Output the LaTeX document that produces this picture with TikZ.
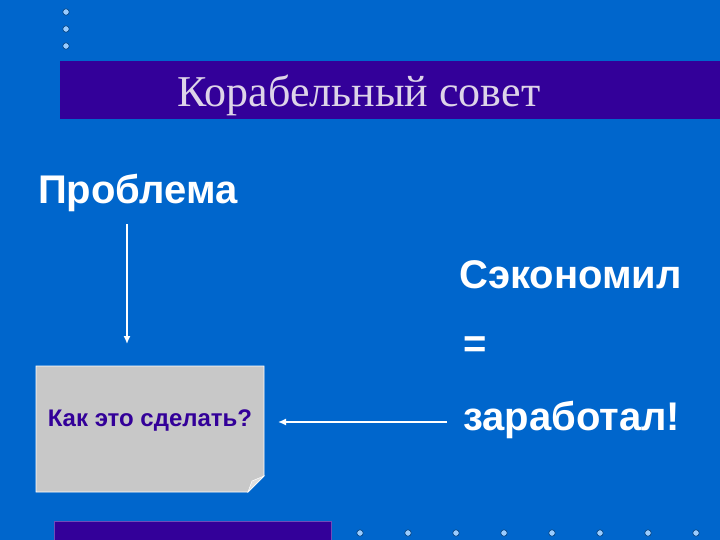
\documentclass[tikz,border=0pt]{standalone}
\usepackage{fontspec}
\setmainfont{Liberation Serif}
\setsansfont{Liberation Sans}
\usetikzlibrary{positioning,arrows.meta}
\definecolor{slideblue}{RGB}{0,102,204}
\definecolor{bandpurple}{RGB}{51,0,153}
\definecolor{titlegray}{RGB}{221,212,232}
\definecolor{boxgray}{RGB}{200,200,200}
\definecolor{dotblue}{RGB}{153,204,255}
\begin{document}
\begin{tikzpicture}[x=1pt,y=-1pt,
  word/.style={anchor=base west,inner sep=0pt,text=white,font=\sffamily\bfseries\fontsize{40}{44}\selectfont},
  dot/.style={circle,fill=dotblue,draw=slideblue!60!black,line width=0.6pt,inner sep=0pt,minimum size=6.5pt},
  arr/.style={draw=white,line width=1.5pt,-{Latex[length=8pt,width=7pt]}}]
  \useasboundingbox (0,0) rectangle (720,540);
  \fill[slideblue] (0,0) rectangle (720,540);
  \foreach \y in {12,29,46} \node[dot] (top\y) at (66,\y) {};
  \foreach \x in {360,408,456,504,552,600,648,696} \node[dot] (bot\x) at (\x,533) {};
  \fill[bandpurple] (60,61) rectangle (720,119);
  \node[anchor=base,inner sep=0pt,text=titlegray,font=\fontsize{44}{48}\selectfont] (title) at (359,107) {Корабельный совет};
  \fill[bandpurple,draw=bandpurple!70!white] (54,521) rectangle (331,541);
  \node[word] (problema) at (38,204) {Проблема};
  \node[word] (sekonomil) at (459,288) {Сэкономил};
  \node[word] (ravno) at (463,357) {=};
  \node[word] (zarabotal) at (463,430) {заработал!};
  \filldraw[fill=boxgray,draw=white,line width=0.8pt] (36,366) -- (264,366) -- (264,476) -- (248,492) -- (36,492) -- cycle;
  \filldraw[fill=gray!25,draw=white,line width=0.5pt] (248,492) -- (264,476) -- (252,481) -- cycle;
  \node[inner sep=0pt,text=bandpurple,font=\sffamily\bfseries\fontsize{24}{28}\selectfont] (vopros) at (150,421) {Как это сделать?};
  \coordinate (down1) at (127,224);
  \coordinate (down2) at (127,344);
  \coordinate (left1) at (447,422);
  \coordinate (left2) at (278,422);
  \draw[arr] (down1) -- (down2);
  \draw[arr] (left1) -- (left2);
\end{tikzpicture}
\end{document}
